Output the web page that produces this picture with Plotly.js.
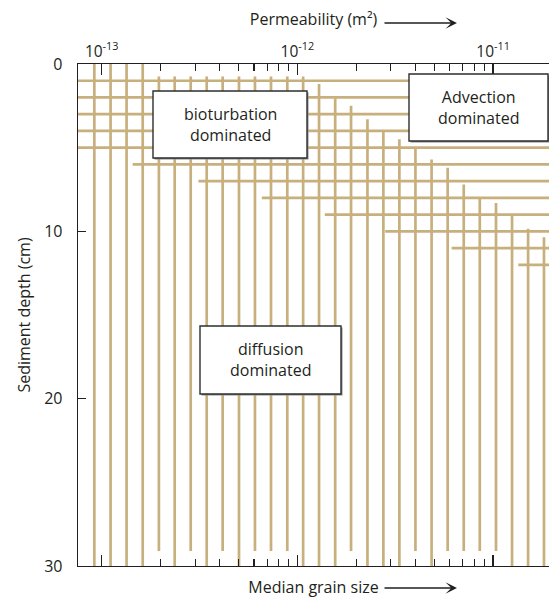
<!DOCTYPE html>
<html><head><meta charset="utf-8">
<script src="https://cdn.plot.ly/plotly-3.0.1.min.js"></script>
<style>html,body{margin:0;padding:0;background:#fff}#chart{width:549px;height:599px}</style>
</head><body><div id="chart"></div>
<script>
// Vertical lines: permeability (m^2) position, depth (cm) where each starts and ends
const linePermeability = [9.17e-14, 1.11e-13, 1.34e-13, 1.62e-13, 1.96e-13, 2.36e-13, 2.85e-13, 3.44e-13, 4.15e-13, 5.03e-13,
  6.07e-13, 7.33e-13, 8.88e-13, 1.07e-12, 1.29e-12, 1.56e-12, 1.88e-12, 2.28e-12, 2.75e-12, 3.32e-12,
  4.01e-12, 4.85e-12, 5.86e-12, 7.08e-12, 8.55e-12, 1.035e-11, 1.25e-11, 1.51e-11, 1.82e-11];
const lineTopDepth = [0, 0, 0, 0, 0.75, 0.75, 0.75, 0.75, 0.75, 0.75,
  0.75, 0.75, 0.75, 0.75, 1.2, 2.05, 2.5, 3.3, 4.0, 4.5,
  5.0, 5.7, 6.2, 7.2, 8.0, 8.3, 9.0, 9.85, 10.35];
const lineBottomDepth = [30, 30, 30, 30, 29.1, 30, 29.1, 30, 29.1, 30,
  29.1, 29.1, 29.1, 30, 30, 30, 29.1, 30, 30, 30,
  29.1, 30, 29.1, 29.1, 29.1, 29.1, 30, 30, 30];

// Horizontal lines: depth (cm), permeability where each starts and ends
const layerDepth = [1, 2, 3, 4, 5, 6, 7, 8, 9, 10, 11, 12];
const layerStartPerm = [7.5e-14, 7.5e-14, 7.5e-14, 7.5e-14, 7.5e-14, 1.44e-13, 3.12e-13, 6.58e-13, 1.38e-12, 2.81e-12, 6.14e-12, 1.345e-11];
const layerEndPerm = [2e-11, 2e-11, 2e-11, 2e-11, 2e-11, 2e-11, 2e-11, 2e-11, 2e-11, 2e-11, 2e-11, 2e-11];

// Axis ticks
const xTickVals = [1e-13, 1e-12, 1e-11];
const xTickText = ['10<sup>-13</sup>', '10<sup>-12</sup>', '10<sup>-11</sup>'];
const xMinorDigits = [2, 3, 4, 5, 6, 7, 8, 9];
const xMinorDecades = [1e-13, 1e-12];
const yTickVals = [0, 10, 20, 30];

// Region labels
const regionLabels = ['bioturbation<br>dominated', 'Advection<br>dominated', 'diffusion<br>dominated'];

const minorVals = [];
xMinorDecades.forEach(d => xMinorDigits.forEach(m => minorVals.push(m * d)));

const GOLD = '#c8b07e';
const INK = '#231f20';
const FONT = '"Open Sans", "Noto Sans", sans-serif';

const vx = [], vy = [];
linePermeability.forEach((p, i) => { vx.push(p, p, null); vy.push(lineTopDepth[i], lineBottomDepth[i], null); });
const hx = [], hy = [];
layerDepth.forEach((d, i) => { hx.push(layerStartPerm[i], layerEndPerm[i], null); hy.push(d, d, null); });

const traces = [
  {type: 'scatter', mode: 'lines', x: hx, y: hy, line: {color: GOLD, width: 2.7}, hoverinfo: 'skip', showlegend: false},
  {type: 'scatter', mode: 'lines', x: vx, y: vy, line: {color: GOLD, width: 2.7}, hoverinfo: 'skip', showlegend: false},
  {type: 'scatter', mode: 'lines', x: [], y: [], xaxis: 'x2', yaxis: 'y', hoverinfo: 'skip', showlegend: false}
];

const L = 78, T = 64, R = 0, B = 33, W = 549, H = 599;
const pw = W - L - R, ph = H - T - B;
const px = v => (v - L) / pw;
const py = v => (H - B - v) / ph;

const boxes = [
  [153, 91, 307, 158],
  [409, 74, 548, 141],
  [200, 326, 341, 394]
];
const shapes = [];
const annotations = [];
boxes.forEach((b, i) => {
  shapes.push({type: 'rect', xref: 'paper', yref: 'paper', x0: px(b[0] + 1.5), x1: px(b[2] + 1.5), y0: py(b[3] + 1.5), y1: py(b[1] + 1.5),
    fillcolor: '#8a8a8a', line: {width: 0}, layer: 'above'});
  shapes.push({type: 'rect', xref: 'paper', yref: 'paper', x0: px(b[0]), x1: px(b[2]), y0: py(b[3]), y1: py(b[1]),
    fillcolor: '#ffffff', line: {color: '#2e2e2e', width: 1.4}, layer: 'above'});
  annotations.push({xref: 'paper', yref: 'paper', x: px((b[0] + b[2]) / 2), y: py((b[1] + b[3]) / 2),
    xanchor: 'center', yanchor: 'middle',
    text: regionLabels[i], showarrow: false, align: 'center', font: {size: 16, color: INK, family: FONT}});
});
// arrows next to the axis titles
annotations.push({xref: 'paper', yref: 'paper', x: px(457), y: py(23), ax: -74, ay: 0, text: '', showarrow: true,
  arrowhead: 3, arrowsize: 1.2, arrowwidth: 1.6, arrowcolor: INK});
annotations.push({xref: 'paper', yref: 'paper', x: px(457), y: py(588), ax: -74, ay: 0, text: '', showarrow: true,
  arrowhead: 3, arrowsize: 1.2, arrowwidth: 1.6, arrowcolor: INK});

const xr = [-13.1211, -10.7143];
const commonX = {
  type: 'log', range: xr, tickmode: 'array', tickvals: xTickVals, ticktext: xTickText,
  ticks: 'inside', ticklen: 11, tickwidth: 1.2, tickcolor: INK,
  minor: {tickmode: 'array', tickvals: minorVals, ticks: 'inside', ticklen: 7, tickwidth: 1.1, tickcolor: INK, showgrid: false},
  showline: true, linecolor: INK, linewidth: 1.3, showgrid: false, zeroline: false, fixedrange: true
};

const layout = {
  width: W, height: H,
  margin: {l: L, r: R, t: T, b: B, pad: 0},
  paper_bgcolor: '#fff', plot_bgcolor: '#fff',
  font: {family: FONT, color: INK, size: 16},
  showlegend: false,
  xaxis: Object.assign({}, commonX, {side: 'top', anchor: 'y', tickfont: {size: 15.5, color: INK},
    title: {text: 'Permeability (m²)', font: {size: 16, color: INK}, standoff: 8}}),
  xaxis2: Object.assign({}, commonX, {side: 'bottom', anchor: 'y', overlaying: 'x', showticklabels: false,
    title: {text: 'Median grain size', font: {size: 16, color: INK}, standoff: 15}}),
  yaxis: {range: [30, 0], tickmode: 'array', tickvals: yTickVals, ticks: 'inside', ticklen: 8, tickwidth: 1.2, tickcolor: INK,
    showline: true, linecolor: INK, linewidth: 1.3, showgrid: false, zeroline: false, fixedrange: true,
    tickfont: {size: 16, color: INK}, ticklabelstandoff: 11,
    title: {text: 'Sediment depth (cm)', font: {size: 16, color: INK}, standoff: 9}},
  shapes: shapes,
  annotations: annotations
};

Plotly.newPlot('chart', traces, layout, {displayModeBar: false, staticPlot: true});
</script>
</body></html>
